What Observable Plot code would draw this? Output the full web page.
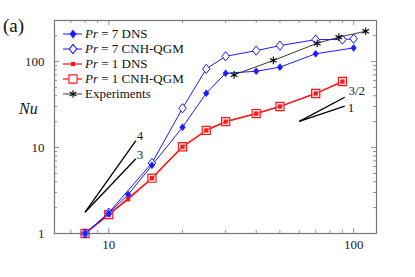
<!DOCTYPE html>
<html><head><meta charset="utf-8">
<script src="https://cdn.jsdelivr.net/npm/d3@7"></script>
<script src="https://cdn.jsdelivr.net/npm/@observablehq/plot@0.6"></script>
<style>
body{margin:0;background:#fff}
#wrap{position:relative;width:415px;height:277px;font-family:'Liberation Serif','DejaVu Serif',serif;color:#111}
.ov{position:absolute;white-space:nowrap}
.row{position:absolute;left:61px;width:160px;height:16px;line-height:16px;font-size:13px;white-space:nowrap}
.row svg{position:absolute;left:0;top:0}
.row span.t{position:absolute;left:24px;top:0;white-space:nowrap}
</style></head><body><div id="wrap"></div>
<script>
// Data
const pr7dnsX = [8, 10, 12, 15, 20, 25, 30, 40, 50, 70, 100];
const pr7dnsY = [1, 1.72, 2.84, 6.2, 17.2, 42.8, 73, 77, 86, 123, 144];
const pr7cnhX = [8, 10, 15, 20, 25, 30, 40, 50, 70, 90, 100];
const pr7cnhY = [1, 1.75, 6.6, 28.6, 82, 115, 134, 153, 180, 180, 184];
const pr1dnsX = [8, 10, 12, 15, 20, 25, 30, 40, 50, 70, 90];
const pr1dnsY = [1, 1.66, 2.5, 4.4, 10.2, 15.8, 20, 24.8, 30, 42.5, 58.5];
const pr1cnhX = [8, 10, 15, 20, 25, 30, 40, 50, 70, 90];
const pr1cnhY = [1, 1.66, 4.4, 10.2, 15.8, 20, 24.8, 30, 42.5, 58.5];
const expX = [32.5, 47, 71, 87, 112];
const expY = [70, 103, 163, 192, 225];
// power-law guide segments: start and end points
const guideLabels = ["4", "3", "3/2", "1"];
const guideX1 = [8, 8, 60, 60];
const guideY1 = [1.77, 1.77, 20.1, 20.1];
const guideX2 = [12.9, 12.9, 92, 92];
const guideY2 = [12, 7.4, 38.4, 30.2];
const guideLabelX = [13.4, 13.4, 103, 97.5];
const guideLabelY = [13.8, 8.3, 46, 29.2];
// axis ticks
const xMajor = [10, 100];
const xMinor = [7, 8, 9, 20, 30, 40, 50, 60, 70, 80, 90];
const yMajor = [1, 10, 100];
const yMinor = [2, 3, 4, 5, 6, 7, 8, 9, 20, 30, 40, 50, 60, 70, 80, 90, 200];
const legendLabels = ["Pr = 7 DNS", "Pr = 7 CNH-QGM", "Pr = 1 DNS", "Pr = 1 CNH-QGM", "Experiments"];

const BLUE = "#1a1aff", RED = "#ff1a1a", AX = "#777";
const FONT = "'Liberation Serif','DejaVu Serif',serif";
const W = 415, H = 277, ML = 54, MR = 39, MT = 20, MB = 44;
const FW = W - ML - MR, FH = H - MT - MB;
// slightly wide diamond
const diamond = {draw(ctx, size) {
  const a = Math.sqrt(size / 1.6), w = 0.8 * a;
  ctx.moveTo(0, -a); ctx.lineTo(w, 0); ctx.lineTo(0, a); ctx.lineTo(-w, 0); ctx.closePath();
}};

const tickStyle = {stroke: AX, strokeWidth: 0.8};
const xTicks = (ticks, size) => [
  Plot.tickX(ticks, {x: d => d, insetTop: FH - size, ...tickStyle}),
  Plot.tickX(ticks, {x: d => d, insetBottom: FH - size, ...tickStyle})
];
const yTicks = (ticks, size) => [
  Plot.tickY(ticks, {y: d => d, insetRight: FW - size, ...tickStyle}),
  Plot.tickY(ticks, {y: d => d, insetLeft: FW - size, ...tickStyle})
];

const plot = Plot.plot({
  width: W, height: H,
  marginLeft: ML, marginRight: MR, marginTop: MT, marginBottom: MB,
  style: {fontFamily: FONT, fontSize: "13px", color: "#222", background: "#fff"},
  x: {type: "log", domain: [6, 124]},
  y: {type: "log", domain: [1, 300]},
  marks: [
    Plot.axisX({anchor: "bottom", ticks: xMajor, tickSize: 0, tickPadding: 6, tickFormat: d => String(d), label: null}),
    Plot.axisY({anchor: "left", ticks: yMajor, tickSize: 0, tickPadding: 10, tickFormat: d => String(d), label: null}),
    ...xTicks(xMajor, 5), ...xTicks(xMinor, 3),
    ...yTicks(yMajor, 5), ...yTicks(yMinor, 3),
    Plot.frame({stroke: AX, strokeWidth: 1.2}),
    // guides
    Plot.link(guideLabels, {x1: guideX1, y1: guideY1, x2: guideX2, y2: guideY2, stroke: "#000", strokeWidth: 1.3}),
    Plot.text(guideLabels, {x: guideLabelX, y: guideLabelY, text: d => d, fill: "#222", fontSize: 13}),
    // Pr = 1
    Plot.line(pr1cnhY, {x: pr1cnhX, y: pr1cnhY, stroke: RED, strokeWidth: 1.3}),
    Plot.line(pr1dnsY, {x: pr1dnsX, y: pr1dnsY, stroke: RED, strokeWidth: 1.3}),
    Plot.dot(pr1cnhY, {x: pr1cnhX, y: pr1cnhY, symbol: "square", r: 4.6, stroke: RED, fill: "#ffd0d0", fillOpacity: 0.6, strokeWidth: 1.2}),
    Plot.dot(pr1dnsY, {x: pr1dnsX, y: pr1dnsY, symbol: "square", r: 2.4, fill: RED, stroke: "none"}),
    // Pr = 7
    Plot.line(pr7cnhY, {x: pr7cnhX, y: pr7cnhY, stroke: BLUE, strokeWidth: 1}),
    Plot.line(pr7dnsY, {x: pr7dnsX, y: pr7dnsY, stroke: BLUE, strokeWidth: 1}),
    Plot.dot(pr7cnhY, {x: pr7cnhX, y: pr7cnhY, symbol: diamond, r: 3.3, stroke: BLUE, fill: "#fff", strokeWidth: 1}),
    Plot.dot(pr7dnsY, {x: pr7dnsX, y: pr7dnsY, symbol: diamond, r: 2.5, fill: BLUE, stroke: BLUE, strokeWidth: 0.5}),
    // experiments
    Plot.line(expY, {x: expX, y: expY, stroke: "#222", strokeWidth: 0.9}),
    Plot.dot(expY, {x: expX, y: expY, symbol: "asterisk", r: 3.6, stroke: "#000", strokeWidth: 1.1})
  ]
});

const wrap = document.getElementById("wrap");
wrap.appendChild(plot);

// overlay texts
const a = document.createElement("div");
a.className = "ov"; a.style.cssText = "left:3px;top:15px;font-size:19px;";
a.textContent = "(a)"; wrap.appendChild(a);
const nu = document.createElement("div");
nu.className = "ov"; nu.style.cssText = "left:19px;top:100px;font-size:16px;font-style:italic;";
nu.textContent = "Nu"; wrap.appendChild(nu);

// legend
const legendStyles = [
  {stroke: BLUE, sym: diamond, size: 2.5 * 2.5 * Math.PI, fill: BLUE, mstroke: BLUE, sw: 1},
  {stroke: BLUE, sym: diamond, size: 3.3 * 3.3 * Math.PI, fill: "#fff", mstroke: BLUE, sw: 1},
  {stroke: RED, sym: d3.symbolSquare, size: 2.4 * 2.4 * Math.PI, fill: RED, mstroke: "none", sw: 1.3},
  {stroke: RED, sym: d3.symbolSquare, size: 4.6 * 4.6 * Math.PI, fill: "#fff", mstroke: RED, sw: 1.3},
  {stroke: "#222", sym: d3.symbolAsterisk, size: 3.6 * 3.6 * Math.PI, fill: "none", mstroke: "#000", sw: 0.9}
];
const rowCenters = [34, 49, 64, 79, 94];
legendLabels.forEach((lab, i) => {
  const s = legendStyles[i];
  const row = document.createElement("div");
  row.className = "row"; row.style.top = (rowCenters[i] - 8) + "px";
  const path = d3.symbol().type(s.sym).size(s.size)();
  row.innerHTML = `<svg width="24" height="16"><line x1="2" x2="21" y1="8" y2="8" stroke="${s.stroke}" stroke-width="${s.sw}"/>` +
    `<path transform="translate(12,8)" d="${path}" fill="${s.fill}" stroke="${s.mstroke}" stroke-width="1.1"/></svg>`;
  const t = document.createElement("span");
  t.className = "t";
  if (lab.startsWith("Pr")) {
    t.innerHTML = `<i>Pr</i>${lab.slice(2)}`;
  } else t.textContent = lab;
  row.appendChild(t);
  wrap.appendChild(row);
});
</script>
</body></html>
